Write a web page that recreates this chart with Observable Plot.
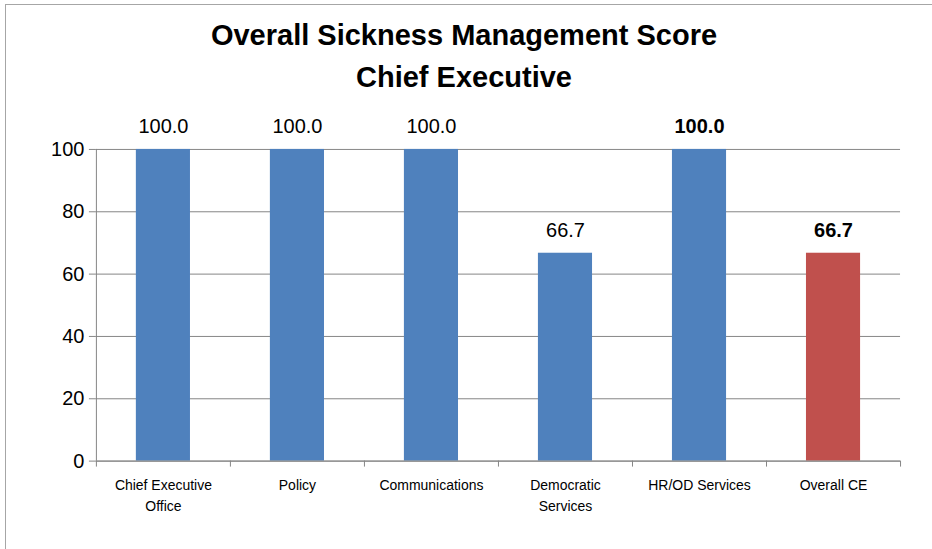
<!DOCTYPE html>
<html>
<head>
<meta charset="utf-8">
<script src="https://cdn.jsdelivr.net/npm/d3@7"></script>
<script src="https://cdn.jsdelivr.net/npm/@observablehq/plot@0.6"></script>
<style>
  html, body { margin: 0; padding: 0; background: #fff; }
  #frame {
    position: relative; box-sizing: border-box;
    border-left: 1px solid #a6a6a6; border-top: 1px solid #a6a6a6;
    margin-left: 5px; margin-top: 4px; width: 927px; height: 545px; overflow: hidden;
  }
  #title {
    font-family: "Liberation Sans", Arial, sans-serif; font-weight: bold; font-size: 29px;
    text-align: center; line-height: 42px; padding-top: 9px; height: 86px; color: #000;
    width: 916px;
  }
  #chart { margin-left: -5px; }
</style>
</head>
<body>
<div id="frame">
  <div id="title">Overall Sickness Management Score<br>Chief Executive</div>
  <div id="chart"></div>
</div>
<script>
const categories = ["Chief Executive\nOffice", "Policy", "Communications", "Democratic\nServices", "HR/OD Services", "Overall CE"];
const values = [100.0, 100.0, 100.0, 66.7, 100.0, 66.7];
const yTicks = [0, 20, 40, 60, 80, 100];

const data = categories.map((c, i) => ({i, category: c, value: values[i]}));
const emphasized = new Set(["HR/OD Services", "Overall CE"]);
const gray = "#868686";
const font = "Liberation Sans, Arial, sans-serif";

const chart = Plot.plot({
  width: 932,
  height: 449,
  marginLeft: 95,
  marginRight: 32,
  marginTop: 49,
  marginBottom: 88,
  style: {fontFamily: font, background: "transparent", overflow: "visible"},
  x: {domain: [0, categories.length]},
  y: {domain: [0, 100]},
  marks: [
    Plot.gridY(yTicks, {stroke: gray, strokeOpacity: 1}),
    Plot.rectY(data, {
      x1: "i", x2: d => d.i + 1, y: "value",
      fill: d => d.category === "Overall CE" ? "#C0504D" : "#4F81BD",
      insetLeft: 40, insetRight: 40
    }),
    Plot.ruleX([0], {stroke: gray}),
    Plot.ruleY([0], {stroke: gray}),
    Plot.axisY(yTicks, {tickSize: 7, tickPadding: 5, fontSize: 20, stroke: gray, fill: "#000", label: null}),
    Plot.axisX(d3.range(categories.length + 1), {tickSize: 6, tickFormat: () => "", stroke: gray, label: null}),
    Plot.axisX(data.map(d => d.i + 0.5), {
      tickSize: 0, tickPadding: 15, fontSize: 14, fill: "#000", lineAnchor: "top", lineHeight: 1.45,
      tickFormat: d => categories[Math.floor(d)], label: null
    }),
    Plot.text(data.filter(d => !emphasized.has(d.category)), {
      x: d => d.i + 0.5, y: "value", text: d => d.value.toFixed(1), dy: -23,
      fontSize: 20, fill: "#000"
    }),
    Plot.text(data.filter(d => emphasized.has(d.category)), {
      x: d => d.i + 0.5, y: "value", text: d => d.value.toFixed(1), dy: -23,
      fontSize: 20, fill: "#000", fontWeight: "bold"
    })
  ]
});
document.getElementById("chart").appendChild(chart);
</script>
</body>
</html>
